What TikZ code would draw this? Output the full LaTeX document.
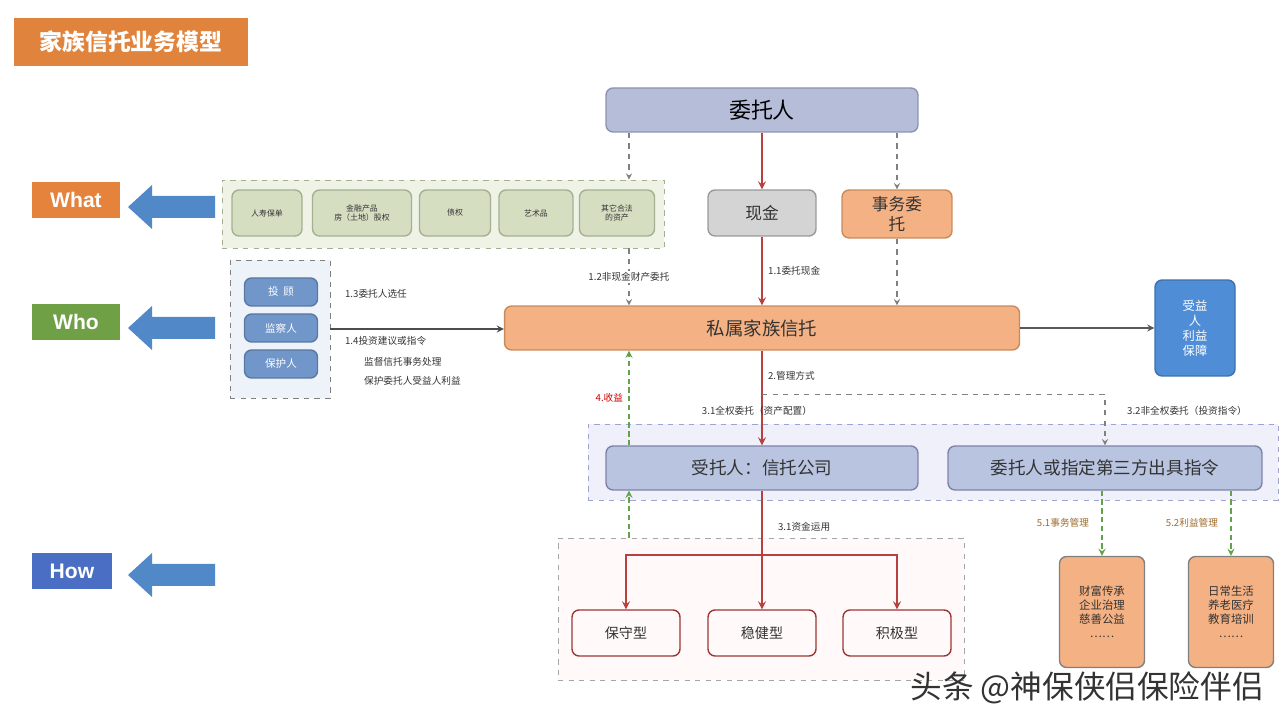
\documentclass[tikz,border=0pt]{standalone}
\usepackage{fontspec}
\setmainfont{Noto Sans CJK SC}
\newfontfamily\latinfont{Liberation Sans}

\definecolor{titleorange}{HTML}{E0843D}
\definecolor{clientfill}{HTML}{B6BDD9}
\definecolor{clientdraw}{HTML}{8C93B0}
\definecolor{assetgrp}{HTML}{EEF3E6}
\definecolor{assetfill}{HTML}{D6DEC2}
\definecolor{assetdraw}{HTML}{A4B091}
\definecolor{cashfill}{HTML}{D4D4D4}
\definecolor{peach}{HTML}{F4B183}
\definecolor{peachdraw}{HTML}{C98A5A}
\definecolor{benefblue}{HTML}{4F8DD6}
\definecolor{whoblue}{HTML}{7096CA}
\definecolor{whogrp}{HTML}{EEF3FA}
\definecolor{arrowblue}{HTML}{5088C8}
\definecolor{whatorange}{HTML}{E5823C}
\definecolor{whogreen}{HTML}{6FA046}
\definecolor{howblue}{HTML}{4A6EC4}
\definecolor{trusteegrp}{HTML}{EFF0FA}
\definecolor{trusteedraw}{HTML}{9DA4CF}
\definecolor{trusteefill}{HTML}{B8C4E0}
\definecolor{redline}{HTML}{B8403E}
\definecolor{investgrp}{HTML}{FFF9F9}
\definecolor{greenline}{HTML}{62A24A}
\definecolor{labelgray}{HTML}{333333}
\definecolor{brownlabel}{HTML}{9C6B2E}

\begin{document}
\begin{tikzpicture}[x=0.02cm,y=-0.02cm,>=stealth,
box/.style={draw,rectangle,rounded corners=4pt,inner sep=1pt,align=center,line width=0.8pt},
grpbox/.style={draw,dashed,rectangle,inner sep=0pt},
assetbox/.style={box,fill=assetfill,draw=assetdraw,minimum height=0.92cm,text=labelgray,font=\fontsize{4.5}{5.5}\selectfont},
whobox/.style={box,fill=whoblue,draw=whoblue!80!black,minimum width=1.46cm,minimum height=0.56cm,text=white,font=\fontsize{6}{7}\selectfont},
peachbox/.style={box,fill=peach,draw=peachdraw},
fundbox/.style={box,fill=investgrp,draw=redline!85!black,minimum width=2.16cm,minimum height=0.92cm,text=labelgray,font=\fontsize{8}{9}\selectfont},
tagbox/.style={rectangle,inner sep=0pt,text=white,font=\latinfont\bfseries\fontsize{12}{14}\selectfont},
lbl/.style={inner sep=1pt,text=labelgray,font=\fontsize{5.5}{6.5}\selectfont},
redarrow/.style={draw=redline,line width=1pt},
greydash/.style={draw=gray,dashed,line width=0.6pt},
greendash/.style={draw=greenline,densely dashed,line width=0.8pt}]

\useasboundingbox (0,0) rectangle (1286,719);

% title
\draw (131,42) node[fill=titleorange,minimum width=4.68cm,minimum height=0.96cm,inner sep=0pt,text=white,font=\bfseries\fontsize{13}{15}\selectfont] (title) {家族信托业务模型};

% left tags and block arrows
\draw (76,200) node[tagbox,fill=whatorange,minimum width=1.76cm,minimum height=0.72cm] (what) {What};
\draw (76,322) node[tagbox,fill=whogreen,minimum width=1.76cm,minimum height=0.72cm] (who) {Who};
\draw (72,571) node[tagbox,fill=howblue,minimum width=1.6cm,minimum height=0.74cm] (how) {How};
\fill[arrowblue] (215,196) -- (152,196) -- (152,185) -- (128,207) -- (152,229) -- (152,218) -- (215,218) -- cycle;
\fill[arrowblue] (215,317) -- (152,317) -- (152,306) -- (128,328) -- (152,350) -- (152,339) -- (215,339) -- cycle;
\fill[arrowblue] (215,564) -- (152,564) -- (152,553) -- (128,575) -- (152,597) -- (152,586) -- (215,586) -- cycle;

% settlor
\draw (762,110) node[box,fill=clientfill,draw=clientdraw,minimum width=6.24cm,minimum height=0.88cm,font=\fontsize{12.5}{14}\selectfont] (settlor) {委托人};

% assets (what)
\draw (443,214) node[grpbox,draw=assetdraw,fill=assetgrp,minimum width=8.84cm,minimum height=1.36cm] (assetgrp) {};
\draw (267,213) node[assetbox,minimum width=1.4cm] (asset1) {人寿保单};
\draw (362,213) node[assetbox,minimum width=1.98cm] (asset2) {金融产品\\房（土地）股权};
\draw (455,213) node[assetbox,minimum width=1.42cm] (asset3) {债权};
\draw (536,213) node[assetbox,minimum width=1.48cm] (asset4) {艺术品};
\draw (617,213) node[assetbox,minimum width=1.5cm] (asset5) {其它合法\\的资产};

\draw (762,213) node[box,fill=cashfill,draw=gray!80,minimum width=2.16cm,minimum height=0.92cm,text=labelgray,font=\fontsize{9.5}{11}\selectfont] (cash) {现金};
\draw (897,214) node[peachbox,minimum width=2.2cm,minimum height=0.96cm,text=labelgray,font=\fontsize{9.5}{11}\selectfont] (affair) {事务委\\托};

% trust
\draw (762,328) node[peachbox,minimum width=10.3cm,minimum height=0.88cm,text=labelgray,font=\fontsize{10.5}{12}\selectfont] (trust) {私属家族信托};
\draw (1195,328) node[box,fill=benefblue,draw=benefblue!80!black,minimum width=1.6cm,minimum height=1.92cm,text=white,font=\fontsize{7}{8.5}\selectfont] (benef) {受益\\人\\利益\\保障};

% who
\draw (280,329) node[grpbox,draw=gray,fill=whogrp,minimum width=2.0cm,minimum height=2.76cm] (whogrp) {};
\draw (281,292) node[whobox] (advisor) {投\ \ 顾};
\draw (281,328) node[whobox] (supervisor) {监察人};
\draw (281,364) node[whobox] (protector) {保护人};

% trustee row
\draw (933,462) node[grpbox,draw=trusteedraw,fill=trusteegrp,minimum width=13.8cm,minimum height=1.52cm] (trusteegrp) {};
\draw (762,468) node[box,fill=trusteefill,draw=trusteedraw!80!black,minimum width=6.24cm,minimum height=0.88cm,text=labelgray,font=\fontsize{10}{12}\selectfont] (trustee) {受托人：信托公司};
\draw (1105,468) node[box,fill=trusteefill,draw=trusteedraw!80!black,minimum width=6.28cm,minimum height=0.88cm,text=labelgray,font=\fontsize{10}{12}\selectfont] (instr) {委托人或指定第三方出具指令};

% investment
\draw (761,609) node[grpbox,draw=gray!70,fill=investgrp,minimum width=8.12cm,minimum height=2.84cm] (investgrp) {};
\draw (626,633) node[fundbox] (safe) {保守型};
\draw (762,633) node[fundbox] (steady) {稳健型};
\draw (897,633) node[fundbox] (active) {积极型};

% uses
\draw (1102,612) node[peachbox,draw=gray,minimum width=1.7cm,minimum height=2.22cm,text=labelgray,font=\fontsize{6.5}{8}\selectfont] (use1) {财富传承\\企业治理\\慈善公益\\……};
\draw (1231,612) node[peachbox,draw=gray,minimum width=1.7cm,minimum height=2.22cm,text=labelgray,font=\fontsize{6.5}{8}\selectfont] (use2) {日常生活\\养老医疗\\教育培训\\……};

\coordinate (lc) at (629,0);
\coordinate (hub) at (762,555);

% connectors
\draw[greydash,->] (settlor.south -| lc) -- (assetgrp.north -| lc);
\draw[greydash,->] (assetgrp.south -| lc) -- (trust.north -| lc) node[lbl,midway,fill=white] {1.2非现金财产委托};
\draw[redarrow,->] (settlor.south) -- (cash.north);
\draw[redarrow,->] (cash.south) -- (trust.north) node[lbl,midway,right=2pt] {1.1委托现金};
\draw[greydash,->] (settlor.south -| affair.north) -- (affair.north);
\draw[greydash,->] (affair.south) -- (trust.north -| affair.south);
\draw[draw=gray!70!black,line width=0.8pt,->] (trust.east) -- (benef.west);
\draw[draw=gray!60!black,line width=0.8pt,->] (whogrp.east) -- (trust.west |- whogrp.east);
\draw (343,294) node[lbl,anchor=west] (select) {1.3委托人选任};
\draw (343,341) node[lbl,anchor=west] (advise) {1.4投资建议或指令};
\draw (362,362) node[lbl,anchor=west] (monitor) {监督信托事务处理};
\draw (362,381) node[lbl,anchor=west] (guard) {保护委托人受益人利益};

\draw[redarrow,->] (trust.south) -- (trustee.north);
\draw (766,376) node[lbl,anchor=west] (manage) {2.管理方式};
\draw[greydash,->] (trust.south) ++(0,44) -| (instr.north);
\draw (757,411) node[lbl] (full) {3.1全权委托（资产配置）};
\draw (1187,411) node[lbl] (partial) {3.2非全权委托（投资指令）};
\draw[greendash,->] (trustee.north -| lc) -- (trust.south -| lc) node[lbl,midway,left=2pt,text=red!80!black] {4.收益};
\draw[greendash,->] (investgrp.north -| lc) -- (trustee.south -| lc);

\draw[redarrow,->] (trustee.south) -- (steady.north);
\draw (776,527) node[lbl,anchor=west] (funds) {3.1资金运用};
\draw[redarrow,->] (hub) -| (safe.north);
\draw[redarrow,->] (hub) -| (active.north);

\draw[greendash,->] (instr.south -| use1.north) -- (use1.north) node[lbl,midway,left=6pt,text=brownlabel] {5.1事务管理};
\draw[greendash,->] (instr.south -| use2.north) -- (use2.north) node[lbl,midway,left=6pt,text=brownlabel] {5.2利益管理};

% watermark
\draw (1270,688) node[anchor=east,text=labelgray,font=\fontsize{18}{20}\selectfont] (mark) {头条 @神保侠侣保险伴侣};
\end{tikzpicture}
\end{document}
